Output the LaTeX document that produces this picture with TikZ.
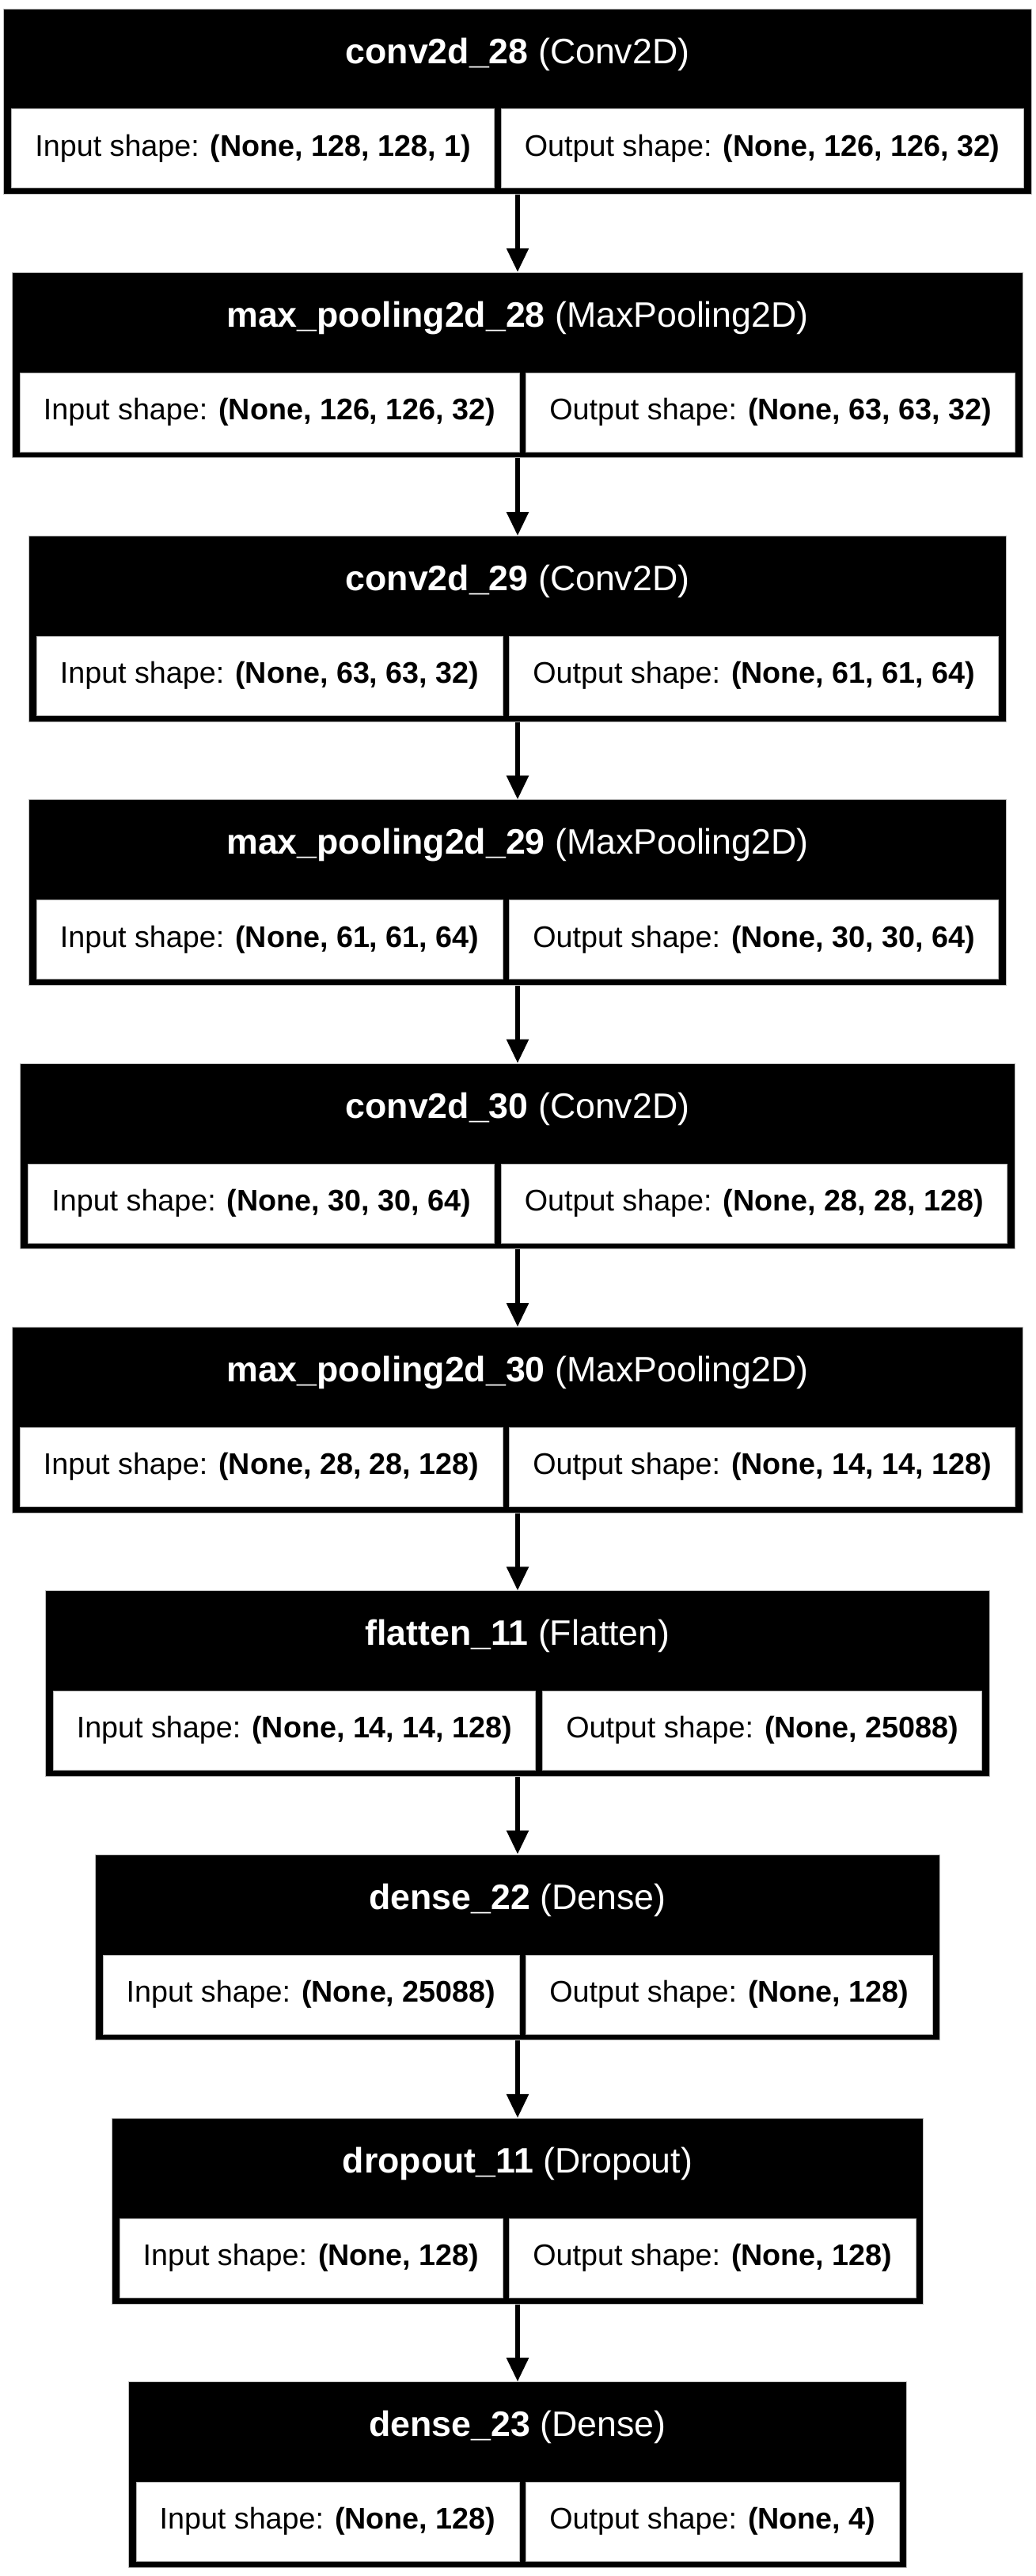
\documentclass[tikz,border=0pt]{standalone}
\usepackage{fontspec}
\setmainfont{Liberation Sans}
\usetikzlibrary{matrix,fit,backgrounds,calc,arrows.meta}
\tikzset{
  cellbox/.style={fill=white, draw=gray!60, line width=0.4pt, inner xsep=14.8pt, inner ysep=0pt,
    minimum height=50pt, text height=14pt, text depth=4.7pt,
    font=\fontsize{18.85pt}{22pt}\selectfont},
  headtext/.style={text=white, inner sep=0pt, text height=16.6pt, text depth=5.6pt,
    font=\fontsize{22.35pt}{26pt}\selectfont},
  boxbg/.style={fill=black, draw=gray!50, line width=0.5pt, inner sep=0pt},
  conn/.style={line width=2.8pt, -{Triangle[length=15pt,width=13.5pt]}},
}
\newcommand\nnlayer[5]{%
  \pgfmathsetmacro\cellTop{-(5.5+#2*166.65)-63}
  \matrix (#1m) [matrix of nodes, ampersand replacement=\&, column sep=4pt, inner sep=0pt,
     nodes={cellbox}, anchor=north] at (327pt,\cellTop pt) {
     Input shape: \textbf{#4} \& Output shape: \textbf{#5} \\
  };
  \coordinate (#1nw) at ($(#1m.north west)+(-4.6pt,63pt)$);
  \coordinate (#1se) at ($(#1m.south east)+(4.6pt,-3.5pt)$);
  \begin{scope}[on background layer]
    \node[boxbg, fit=(#1nw)(#1se)] (#1) {};
  \end{scope}
  \node[headtext] (#1h) at ($(#1m.north)+(0,34pt)$) {#3};
}
\begin{document}
\begin{tikzpicture}
\useasboundingbox (0,0) rectangle (654pt,-1628pt);
\nnlayer{la}{0}{\textbf{conv2d\_28} (Conv2D)}{(None, 128, 128, 1)}{(None, 126, 126, 32)}
\nnlayer{lb}{1}{\textbf{max\_pooling2d\_28} (MaxPooling2D)}{(None, 126, 126, 32)}{(None, 63, 63, 32)}
\nnlayer{lc}{2}{\textbf{conv2d\_29} (Conv2D)}{(None, 63, 63, 32)}{(None, 61, 61, 64)}
\nnlayer{ld}{3}{\textbf{max\_pooling2d\_29} (MaxPooling2D)}{(None, 61, 61, 64)}{(None, 30, 30, 64)}
\nnlayer{le}{4}{\textbf{conv2d\_30} (Conv2D)}{(None, 30, 30, 64)}{(None, 28, 28, 128)}
\nnlayer{lf}{5}{\textbf{max\_pooling2d\_30} (MaxPooling2D)}{(None, 28, 28, 128)}{(None, 14, 14, 128)}
\nnlayer{lg}{6}{\textbf{flatten\_11} (Flatten)}{(None, 14, 14, 128)}{(None, 25088)}
\nnlayer{lh}{7}{\textbf{dense\_22} (Dense)}{(None, 25088)}{(None, 128)}
\nnlayer{li}{8}{\textbf{dropout\_11} (Dropout)}{(None, 128)}{(None, 128)}
\nnlayer{lj}{9}{\textbf{dense\_23} (Dense)}{(None, 128)}{(None, 4)}
\draw[conn] (la.south) -- (lb.north);
\draw[conn] (lb.south) -- (lc.north);
\draw[conn] (lc.south) -- (ld.north);
\draw[conn] (ld.south) -- (le.north);
\draw[conn] (le.south) -- (lf.north);
\draw[conn] (lf.south) -- (lg.north);
\draw[conn] (lg.south) -- (lh.north);
\draw[conn] (lh.south) -- (li.north);
\draw[conn] (li.south) -- (lj.north);
\end{tikzpicture}
\end{document}
